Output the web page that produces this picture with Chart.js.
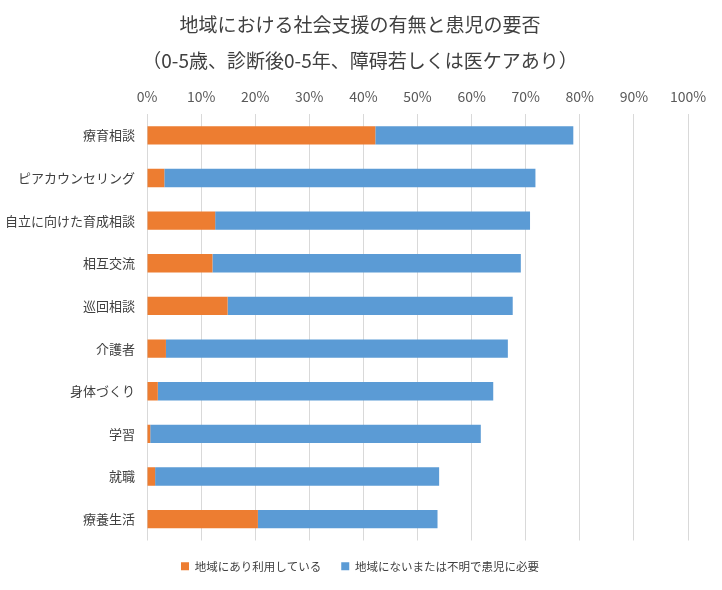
<!DOCTYPE html>
<html>
<head>
<meta charset="utf-8">
<script src="https://cdn.jsdelivr.net/npm/chart.js@4"></script>
<style>
  html, body { margin: 0; padding: 0; background: #fff; }
  #wrap { width: 722px; height: 590px; }
</style>
</head>
<body>
<div id="wrap"><canvas id="barChart"></canvas></div>
<script>
    // Data (percent)
    const categories = ['療育相談', 'ピアカウンセリング', '自立に向けた育成相談', '相互交流', '巡回相談', '介護者', '身体づくり', '学習', '就職', '療養生活'];
    const usingLocal = [42.2, 3.2, 12.6, 12.1, 14.9, 3.5, 2.0, 0.6, 1.5, 20.5];
    const neededNotAvailable = [36.6, 68.6, 58.2, 57.0, 52.7, 63.2, 62.0, 61.1, 52.5, 33.2];
    const seriesNames = ['地域にあり利用している', '地域にないまたは不明で患児に必要'];
    const titleLines = ['地域における社会支援の有無と患児の要否', '（0-5歳、診断後0-5年、障碍若しくは医ケアあり）'];

    const font = "'Noto Sans CJK JP', 'Noto Sans', sans-serif";
    Chart.defaults.font.family = font;
    Chart.defaults.color = '#595959';

    const barCtx = document.getElementById('barChart').getContext('2d');
    const barChart = new Chart(barCtx, {
      type: 'bar',
      data: {
        labels: categories,
        datasets: [{
          label: seriesNames[0],
          data: usingLocal,
          backgroundColor: '#ED7D31',
          borderWidth: 0,
          barPercentage: 0.43,
          categoryPercentage: 1
        }, {
          label: seriesNames[1],
          data: neededNotAvailable,
          backgroundColor: '#5B9BD5',
          borderWidth: 0,
          barPercentage: 0.43,
          categoryPercentage: 1
        }]
      },
      options: {
        indexAxis: 'y',
        responsive: true,
        maintainAspectRatio: false,
        animation: false,
        // small right padding keeps title/legend centred like the original
        layout: { padding: { left: 0, right: 2, top: 7, bottom: 8 } },
        plugins: {
          title: {
            display: true,
            text: titleLines,
            color: '#404040',
            font: { size: 19, weight: 'normal', lineHeight: 1.9 },
            padding: { top: 0, bottom: 0 }
          },
          legend: {
            position: 'bottom',
            labels: {
              boxWidth: 8,
              boxHeight: 8,
              padding: 20,
              color: '#404040',
              font: { size: 11.5 }
            }
          },
          tooltip: { enabled: false }
        },
        scales: {
          x: {
            position: 'top',
            stacked: true,
            min: 0,
            max: 100,
            ticks: {
              stepSize: 10,
              color: '#595959',
              font: { size: 14 },
              padding: 9,
              callback: v => v + '%'
            },
            grid: { color: '#d9d9d9', drawTicks: false },
            border: { display: false },
            afterFit: scale => { scale.paddingRight = 34; }
          },
          y: {
            stacked: true,
            ticks: {
              color: '#404040',
              font: { size: 13 },
              padding: 4
            },
            grid: { display: false },
            border: { display: false },
            afterFit: scale => { scale.width = 147; }
          }
        }
      }
    });
</script>
</body>
</html>
